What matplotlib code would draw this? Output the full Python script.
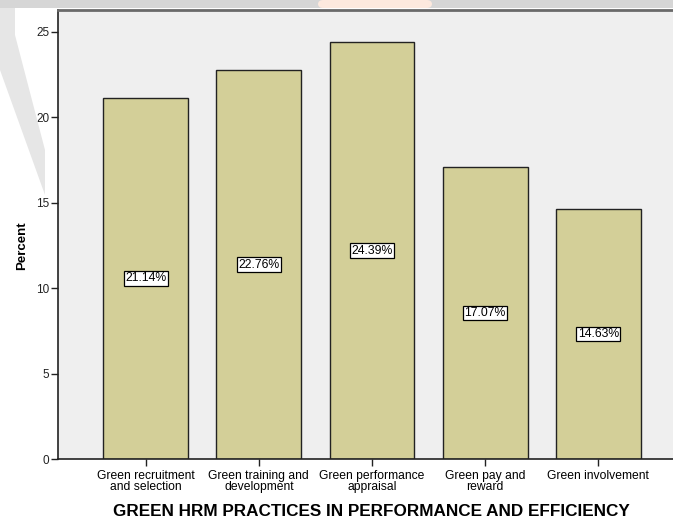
import matplotlib
matplotlib.use("Agg")
import matplotlib.pyplot as plt
from matplotlib.patches import Polygon, Rectangle, FancyBboxPatch

plt.rcParams['font.family'] = ['Liberation Sans', 'DejaVu Sans']

# percentages per practice
practices = ['Green recruitment\nand selection', 'Green training and\ndevelopment',
             'Green performance\nappraisal', 'Green pay and\nreward', 'Green involvement']
percent = [21.14, 22.76, 24.39, 17.07, 14.63]
yticks = [0, 5, 10, 15, 20, 25]

W, H = 673, 524
fig = plt.figure(figsize=(W / 100, H / 100), dpi=100)
fig.patch.set_facecolor('white')

# faint page marks behind the chart
def px(x, y):
    return (x / W, 1 - y / H)

fig.patches.append(Rectangle(px(0, 8), 1, 8 / H, transform=fig.transFigure,
                             facecolor='#d6d6d6', edgecolor='none', zorder=0))
fig.patches.append(FancyBboxPatch(px(318, 8), 114 / W, 8 / H, transform=fig.transFigure,
                                  boxstyle='round,pad=0.0,rounding_size=0.008',
                                  facecolor='#fde9de', edgecolor='none', zorder=0))
fig.patches.append(Polygon([px(0, 8), px(15, 8), px(15, 35), px(45, 150), px(45, 195),
                            px(0, 70)], closed=True, transform=fig.transFigure,
                           facecolor='#e6e6e6', edgecolor='none', zorder=0))

ax = fig.add_axes([57.5 / W, (H - 459) / H, 1 - 57.5 / W, (459 - 9.5) / H])
ax.set_facecolor('#efefef')

x = list(range(len(practices)))
ax.bar(x, percent, width=0.75, color='#d3cf98', edgecolor='#222222', linewidth=1.0, zorder=2)

for xi, v in zip(x, percent):
    ax.text(xi, v / 2, f'{v:.2f}%', ha='center', va='center', fontsize=8.8, zorder=3,
            bbox=dict(boxstyle='square,pad=0.1', facecolor='white', edgecolor='black',
                      linewidth=0.9))

ax.set_xlim(-0.779, 4.66)
ax.set_ylim(0, 26.3)
ax.set_xticks(x)
ax.set_xticklabels(practices, fontsize=8.7, linespacing=0.88)
ax.set_yticks(yticks)
ax.set_yticklabels([str(t) for t in yticks], fontsize=8.5, color='#222222')
ax.tick_params(axis='both', direction='out', length=5, width=1, color='#222222')
ax.tick_params(axis='x', pad=3)
ax.tick_params(axis='y', pad=1)

ax.spines['right'].set_visible(False)
ax.spines['top'].set_color('#6a6a6a')
ax.spines['top'].set_linewidth(2)
for s in ('left', 'bottom'):
    ax.spines[s].set_color('#222222')
    ax.spines[s].set_linewidth(1.2)

fig.text(22 / W, 1 - 246 / H, 'Percent', rotation=90, ha='center', va='center',
         fontsize=9.5, fontweight='bold')
fig.text(371 / W, 1 - 512 / H, 'GREEN HRM PRACTICES IN PERFORMANCE AND EFFICIENCY',
         ha='center', va='center', fontsize=12.3, fontweight='bold')

fig.savefig('out.png', dpi=100)
